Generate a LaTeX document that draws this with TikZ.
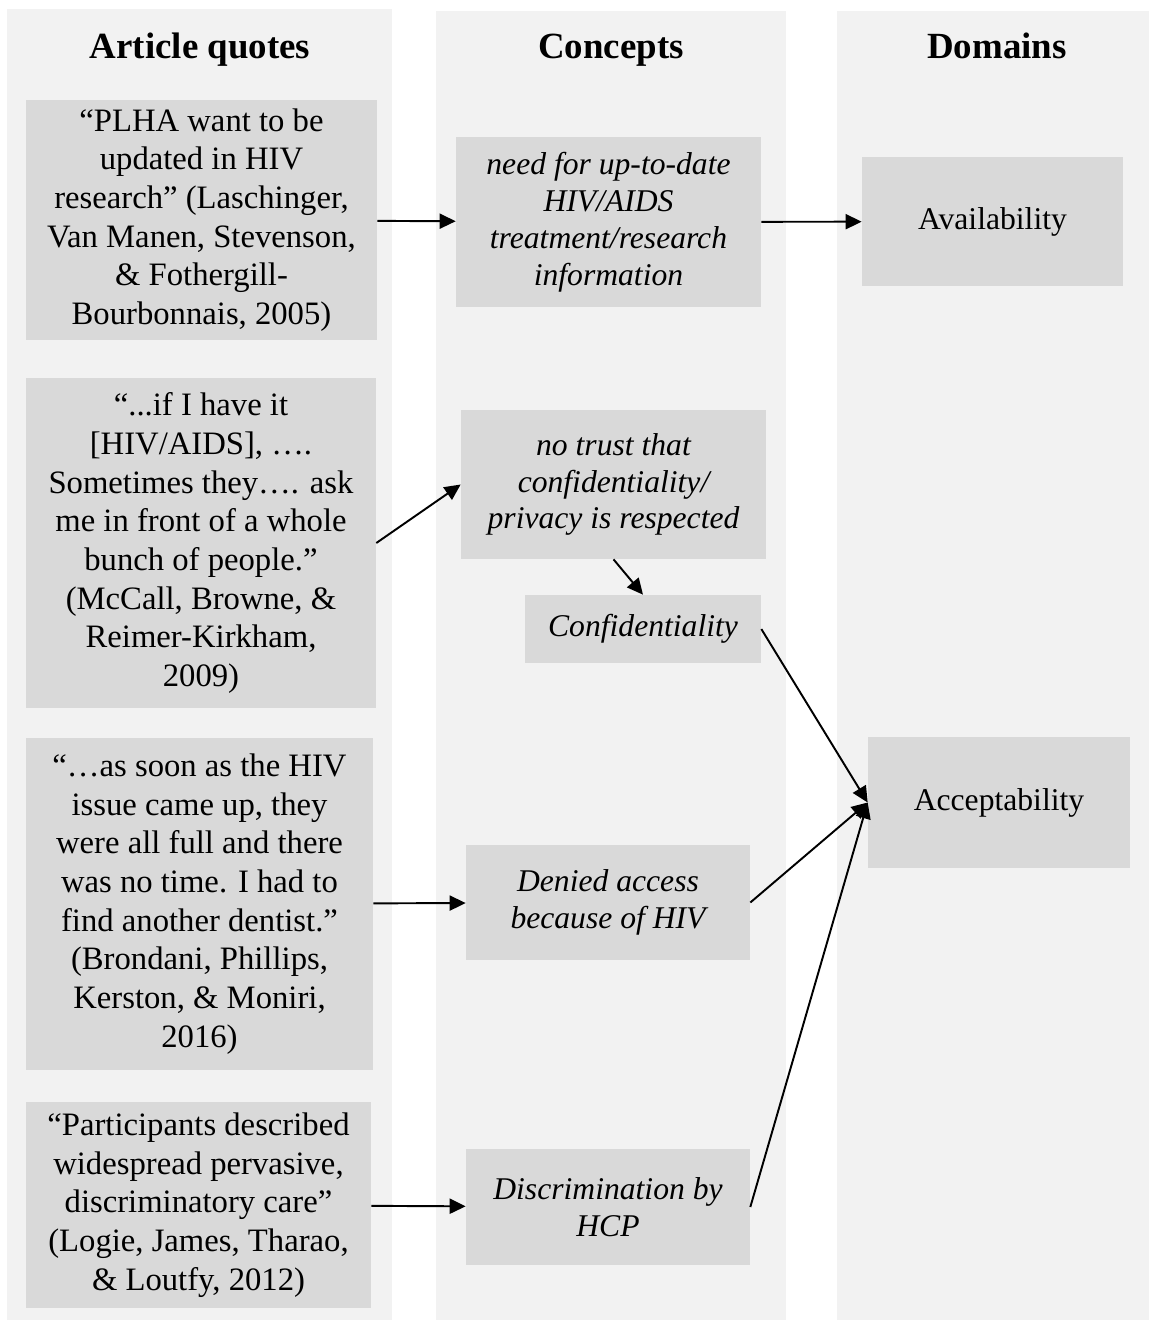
\documentclass[tikz,border=0pt]{standalone}
\usepackage{fontspec}
\setmainfont{Liberation Serif}
\usepackage{tikz}
\usetikzlibrary{arrows.meta}
\usetikzlibrary{positioning}
\definecolor{colbg}{HTML}{F2F2F2}
\definecolor{boxbg}{HTML}{D9D9D9}

\begin{document}
\begin{tikzpicture}[x=0.02cm, y=-0.02cm,
		quote/.style = {fill=boxbg, align=center, inner sep=0pt, font=\fontsize{18.6}{22}\selectfont},
		concept/.style = {quote, font=\fontsize{18}{21}\selectfont\itshape},
		dombox/.style = {quote, font=\fontsize{18}{21}\selectfont},
		head/.style = {anchor=base, font=\fontsize{21}{24}\selectfont\bfseries},
		link/.style = {-{Triangle[length=0.32cm,width=0.3cm]}, line width=1.1pt}]
		\useasboundingbox (0,0) rectangle (1149,1320);
		
		% columns
		\fill[colbg] (7,9) rectangle (392,1320);
		\fill[colbg] (436,11) rectangle (786,1320);
		\fill[colbg] (837,11) rectangle (1149,1320);
		
		\node[head] (hquotes) at (200,58) {Article quotes};
		\node[head] (hconcepts) at (611,58) {Concepts};
		\node[head] (hdomains) at (997,58) {Domains};
		
		% article quotes
		\node[quote, minimum width=7.02cm, minimum height=4.8cm] (qupdate) at (201.5,220) {“PLHA want to be\\ updated in HIV\\ research” (Laschinger,\\ Van Manen, Stevenson,\\ \& Fothergill-\\ Bourbonnais, 2005)};
		\node[quote, minimum width=7cm, minimum height=6.6cm] (qprivacy) at (201,543) {“...if I have it\\ {[HIV/AIDS]}, ….\\ Sometimes they…. ask\\ me in front of a whole\\ bunch of people.”\\ (McCall, Browne, \&\\ Reimer-Kirkham,\\ 2009)};
		\node[quote, minimum width=6.94cm, minimum height=6.64cm] (qdentist) at (199.5,904) {“…as soon as the HIV\\ issue came up, they\\ were all full and there\\ was no time. I had to\\ find another dentist.”\\ (Brondani, Phillips,\\ Kerston, \& Moniri,\\ 2016)};
		\node[quote, minimum width=6.9cm, minimum height=4.14cm] (qcare) at (198.5,1205) {“Participants described\\ widespread pervasive,\\ discriminatory care”\\ (Logie, James, Tharao,\\ \& Loutfy, 2012)};
		
		% concepts
		\node[concept, minimum width=6.1cm, minimum height=3.4cm] (cinfo) at (608.5,222) {need for up-to-date\\ HIV/AIDS\\ treatment/research\\ information};
		\node[concept, minimum width=6.1cm, minimum height=2.98cm] (ctrust) at (613.5,484.5) {no trust that\\ confidentiality/\\ privacy is respected};
		\node[concept, minimum width=4.72cm, minimum height=1.36cm] (cconf) at (643,629) {Confidentiality};
		\node[concept, minimum width=5.68cm, minimum height=2.3cm] (cdenied) at (608,902.5) {Denied access\\ because of HIV};
		\node[concept, minimum width=5.68cm, minimum height=2.32cm] (cdiscr) at (608,1207) {Discrimination by\\ HCP};
		
		% domains
		\node[dombox, minimum width=5.22cm, minimum height=2.58cm] (davail) at (992.5,221.5) {Availability};
		\node[dombox, minimum width=5.24cm, minimum height=2.62cm] (daccept) at (999,802.5) {Acceptability};
		
		\draw[link] (qupdate) -- (cinfo);
		\draw[link] (cinfo) -- (davail);
		\draw[link] (qprivacy.east) -- (ctrust.west);
		\draw[link] (ctrust.south) -- (cconf.north);
		\draw[link] (cconf.east) -- (daccept.west);
		\draw[link] (qdentist) -- (cdenied);
		\draw[link] (cdenied.east) -- (daccept.west);
		\draw[link] (qcare) -- (cdiscr);
		\draw[link] (cdiscr.east) -- (daccept.west);
\end{tikzpicture}
\end{document}
